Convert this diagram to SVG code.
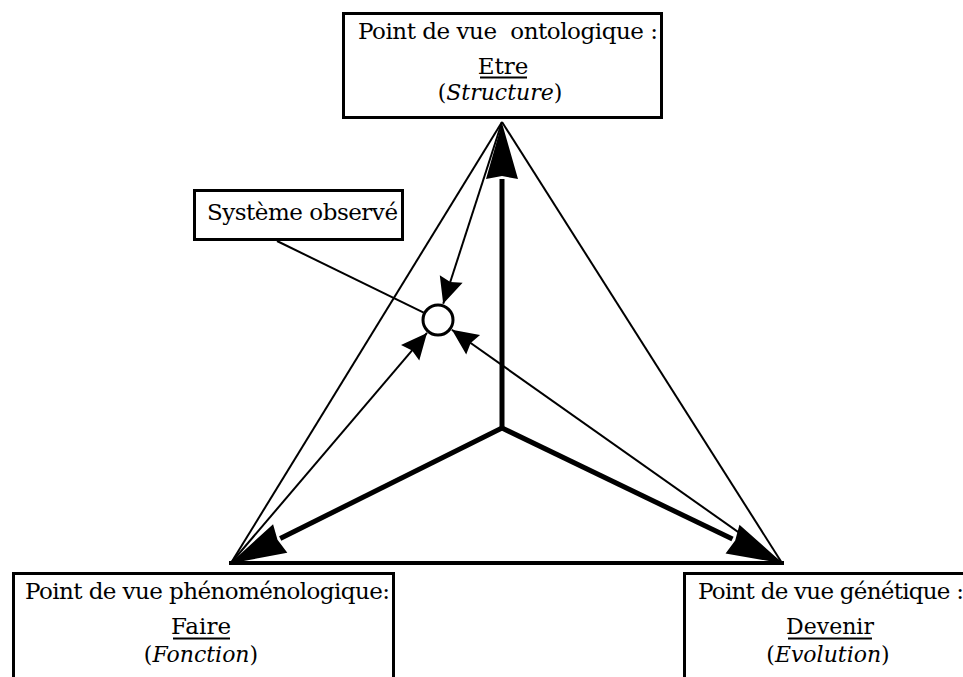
<svg xmlns="http://www.w3.org/2000/svg" width="963" height="677" viewBox="0 0 963 677">
<style>
  .box { fill: #fff; stroke: #000; stroke-width: 3; }
  .t { font-family: "DejaVu Serif", "Liberation Serif", serif; font-size: 23px; fill: #000; }
  .p { font-size: 22px; }
  .i { font-style: italic; }
  .ul { stroke: #000; stroke-width: 2; }
  .thin { fill: none; stroke: #000; stroke-width: 2; }
  .thick { fill: none; stroke: #000; stroke-width: 5; }
  .base { fill: none; stroke: #000; stroke-width: 4; }
</style>
<defs>
  <marker id="bigHead" markerUnits="userSpaceOnUse" markerWidth="58" markerHeight="34" refX="0" refY="16" orient="auto" overflow="visible">
    <path d="M0,0 L56,16 L0,32 L3,16 z" fill="#000"/>
  </marker>
  <marker id="smallHead" markerUnits="userSpaceOnUse" markerWidth="28" markerHeight="26" refX="26" refY="12" orient="auto" overflow="visible">
    <path d="M0,0 L26,12 L0,24 L3,12 z" fill="#000"/>
  </marker>
</defs>
<rect width="963" height="677" fill="#fff"/>

<g id="connectors">
  <line class="thin" x1="502" y1="122" x2="231" y2="563"/>
  <line class="thin" x1="502" y1="122" x2="782" y2="563"/>
  <line class="base" x1="229" y1="563" x2="784" y2="563"/>
  <path class="thick" d="M502,428 L502,179" marker-end="url(#bigHead)"/>
  <path class="thick" d="M502,428 L280.2,538.5" marker-end="url(#bigHead)"/>
  <path class="thick" d="M502,428 L732.5,539.1" marker-end="url(#bigHead)"/>
  <path class="thin" d="M502,122 L443.2,303.8" marker-end="url(#smallHead)"/>
  <path class="thin" d="M231,563 L427,332.9" marker-end="url(#smallHead)"/>
  <path class="thin" d="M782,563 L451.9,329.8" marker-end="url(#smallHead)"/>
  <line class="thin" x1="277" y1="241" x2="423.7" y2="312.7"/>
</g>

<g id="systeme-circle">
  <circle cx="438" cy="320" r="15" fill="#fff" stroke="#000" stroke-width="3"/>
</g>

<g id="ontologique">
  <rect class="box" x="343.5" y="13.5" width="318" height="104"/>
  <text class="t" x="358" y="39" textLength="300" lengthAdjust="spacing" xml:space="preserve">Point de vue  ontologique :</text>
  <text class="t" x="503" y="74" text-anchor="middle">Etre</text>
  <line class="ul" x1="480" y1="77.5" x2="527" y2="77.5"/>
  <text class="t p" x="500" y="100" text-anchor="middle">(<tspan class="i">Structure</tspan>)</text>
</g>

<g id="systeme-observe">
  <rect class="box" x="194.5" y="190.5" width="208" height="49"/>
  <text class="t" x="207" y="220" textLength="191" lengthAdjust="spacing">Système observé</text>
</g>

<g id="phenomenologique">
  <rect class="box" x="13.5" y="573.5" width="380" height="120"/>
  <text class="t" x="25" y="599" textLength="365" lengthAdjust="spacing">Point de vue phénoménologique:</text>
  <text class="t" x="201" y="634" text-anchor="middle">Faire</text>
  <line class="ul" x1="173" y1="638.5" x2="230" y2="638.5"/>
  <text class="t p" x="201" y="662" text-anchor="middle">(<tspan class="i">Fonction</tspan>)</text>
</g>

<g id="genetique">
  <rect class="box" x="684.5" y="573.5" width="400" height="120"/>
  <text class="t" x="698" y="599" textLength="266" lengthAdjust="spacing">Point de vue génétique :</text>
  <text class="t p" x="830" y="634" text-anchor="middle">Devenir</text>
  <line class="ul" x1="788" y1="638.5" x2="872" y2="638.5"/>
  <text class="t p" x="828" y="662" text-anchor="middle">(<tspan class="i">Evolution</tspan>)</text>
</g>
</svg>
